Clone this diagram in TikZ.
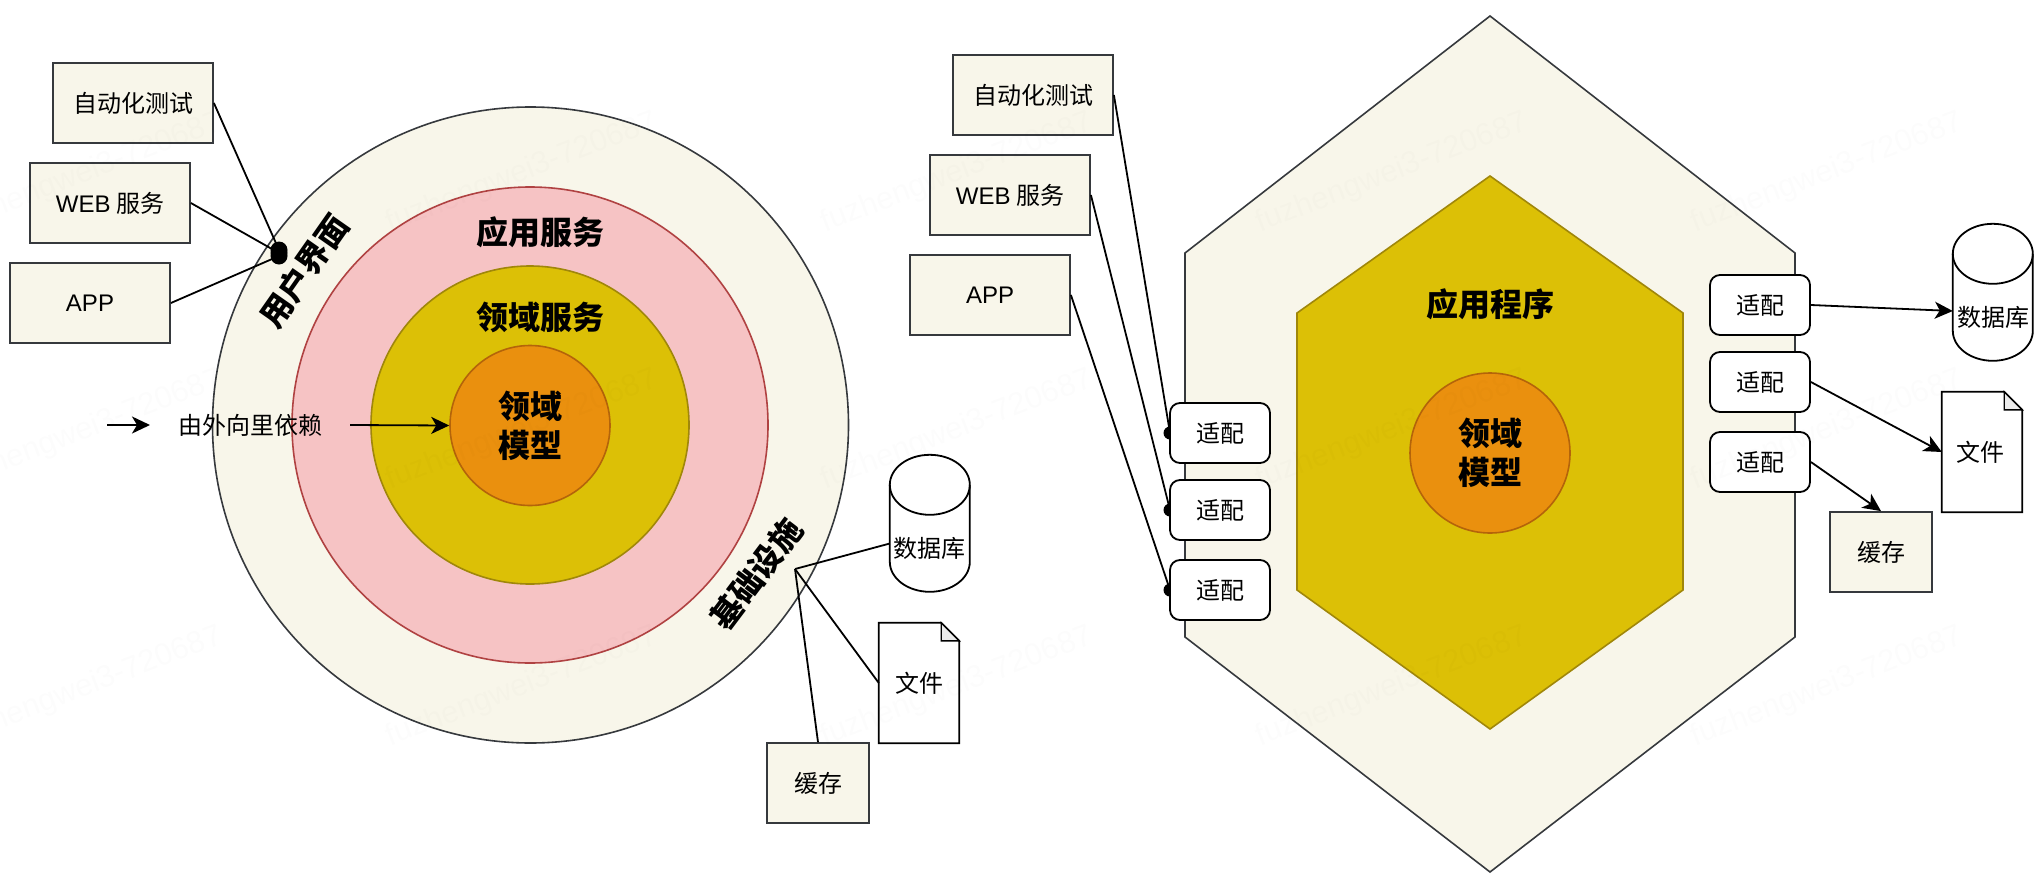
\documentclass[tikz,border=0pt]{standalone}
\usepackage{fontspec}
\setmainfont{Noto Sans CJK SC}
\newfontfamily\latinf{Liberation Sans}
\usetikzlibrary{arrows.meta}
\definecolor{cream}{RGB}{248,246,234}
\definecolor{dark}{RGB}{54,57,61}
\definecolor{pinkf}{RGB}{246,195,196}
\definecolor{pinkd}{RGB}{176,66,66}
\definecolor{olivef}{RGB}{220,192,6}
\definecolor{olived}{RGB}{160,135,10}
\definecolor{orangef}{RGB}{234,144,14}
\definecolor{oranged}{RGB}{180,100,10}
\definecolor{foldf}{RGB}{235,235,235}
\tikzset{
  lbl/.style={font=\fontsize{24}{28}\selectfont,text=black,inner sep=0pt},
  blbl/.style={font=\fontsize{32}{39}\bfseries\selectfont,text=black,inner sep=0pt,align=center},
  tbox/.style={draw=dark,line width=1.8pt,fill=cream,minimum width=160pt,minimum height=80pt,inner sep=0pt,lbl},
  cbox/.style={draw=dark,line width=1.8pt,fill=cream,minimum width=102pt,minimum height=80pt,inner sep=0pt,lbl},
  adapter/.style={draw=black,line width=1.8pt,fill=white,rounded corners=10pt,minimum width=100pt,minimum height=60pt,inner sep=0pt,lbl},
  ring/.style={circle,inner sep=0pt,line width=1.6pt},
  link/.style={draw=black,line width=1.8pt},
  arrowlink/.style={link,-{Stealth[length=18pt,width=17pt,inset=5pt]}},
  dot/.style={circle,fill=black,inner sep=0pt,minimum size=13pt},
  bigdot/.style={dot,minimum size=17pt},
  outline/.style={draw=black,line width=1.8pt,fill=white},
  wm/.style={font=\latinf\fontsize{31}{36}\selectfont,text=black,opacity=0.012,rotate=21,inner sep=0pt},
  phantombox/.style={inner sep=0pt,minimum width=80pt,minimum height=#1}
}
\newcommand{\cylshape}[3]{% name, center x, center y
  \node[phantombox=137pt] (#1) at (#2,#3) {};
  \path[outline] (#1.north west) ++(0,30) arc[start angle=180,end angle=360,x radius=40,y radius=30]
    -- ++(0,77) arc[start angle=0,end angle=180,x radius=40,y radius=30] -- cycle;
  \draw[black,line width=1.8pt] (#1.north west) ++(0,30) arc[start angle=180,end angle=0,x radius=40,y radius=30];
}
\newcommand{\docshape}[3]{% name, center x, center y
  \node[phantombox=120pt] (#1) at (#2,#3) {};
  \path[outline] (#1.north west) -- ([xshift=-18]#1.north east) -- ([yshift=-18]#1.north east) -- (#1.south east) -- (#1.south west) -- cycle;
  \path[draw=black,line width=1.4pt,fill=foldf] ([xshift=-18]#1.north east) -- ([yshift=-18]#1.north east) -- ([xshift=-18,yshift=-18]#1.north east) -- cycle;
}
\begin{document}
\begin{tikzpicture}[x=1pt,y=-1pt]
\useasboundingbox (0,0) rectangle (2044,886);

% --- left: onion
\node[ring,draw=dark,fill=cream,minimum size=636pt] (outer) at (530.5,425) {};
\node[ring,draw=pinkd,fill=pinkf,minimum size=476pt] (pink) at (530,425) {};
\node[ring,draw=olived,fill=olivef,minimum size=318pt] (olive) at (530,425) {};
\node[ring,draw=oranged,fill=orangef,minimum size=160pt,blbl] (core) at (530,425.5) {\raisebox{-1pt}{领域}\\\raisebox{-1pt}{模型}};
\node[blbl] (appsvc) at (540,232) {应用服务};
\node[blbl] (domsvc) at (540,317) {领域服务};
\node[blbl,rotate=55] (ui) at (304,271) {用户界面};
\node[blbl,rotate=53] (infra) at (756,574) {基础设施};

\node[tbox] (lt) at (133,103) {自动化测试};
\node[tbox] (lw) at (110,203) {{\latinf WEB} 服务};
\node[tbox] (la) at (90,303) {\latinf APP};
\node[bigdot] (dd1) at (279,250) {};
\node[bigdot] (dd2) at (279,253) {};
\node[bigdot] (dd3) at (279,256) {};
\draw[link] (lt.east) -- (dd1.center);
\draw[link] (lw.east) -- (dd2.center);
\draw[link] (la.east) -- (dd3.center);

\coordinate (a0) at (107,425);
\coordinate (a1) at (150,425);
\draw[arrowlink] (a0) -- (a1);
\node[lbl] (dep) at (250,425) {由外向里依赖};
\coordinate (a2) at (350,425);
\draw[arrowlink] (a2) -- (core.west);

\coordinate (hub) at (795,569);
\cylshape{ldb}{930}{523.5}
\node[lbl] (ldbt) at (929,548) {数据库};
\docshape{ldoc}{919}{683}
\node[lbl] (ldoct) at (919,683) {文件};
\node[cbox] (lc) at (818,783) {缓存};
\draw[link] (hub) -- ([yshift=-20]ldb.west);
\draw[link] (hub) -- (ldoc.west);
\draw[link] (hub) -- (lc.north);

% --- right: hexagon
\path[draw=dark,line width=1.6pt,fill=cream] (1490,16) -- (1795,253) -- (1795,637) -- (1490,872) -- (1185,637) -- (1185,253) -- cycle;
\path[draw=olived,line width=1.6pt,fill=olivef] (1490,176) -- (1683,313) -- (1683,590) -- (1490,729) -- (1297,590) -- (1297,313) -- cycle;
\node[ring,draw=oranged,fill=orangef,minimum size=160pt,blbl] (core2) at (1490,453) {领域\\模型};
\node[blbl] (appl) at (1490,304) {应用程序};

\node[tbox] (rt) at (1033,95) {自动化测试};
\node[tbox] (rw) at (1010,195) {{\latinf WEB} 服务};
\node[tbox] (ra) at (990,295) {\latinf APP};

\node[dot] (p1) at (1170,433) {};
\node[dot] (p2) at (1170,510) {};
\node[dot] (p3) at (1170,590) {};
\draw[link] (rt.east) -- (p1.center);
\draw[link] (rw.east) -- (p2.center);
\draw[link] (ra.east) -- (p3.center);
\node[adapter] (al1) at (1220,433) {适配};
\node[adapter] (al2) at (1220,510) {适配};
\node[adapter] (al3) at (1220,590) {适配};

\node[adapter] (ar1) at (1760,305) {适配};
\node[adapter] (ar2) at (1760,382) {适配};
\node[adapter] (ar3) at (1760,462) {适配};
\cylshape{rdb}{1993}{292.5}
\node[lbl] (rdbt) at (1993,317) {数据库};
\docshape{rdoc}{1982}{452}
\node[lbl] (rdoct) at (1980,452) {文件};
\node[cbox] (rc) at (1881,552) {缓存};
\draw[arrowlink] (ar1.east) -- ([yshift=-18.5]rdb.west);
\draw[arrowlink] (ar2.east) -- (rdoc.west);
\draw[arrowlink] (ar3.east) -- (rc.north);

% --- faint watermark
\foreach \wx in {87,522,957,1392,1827}{
  \foreach \wy in {173,430,687}{
    \node[wm] at (\wx,\wy) {fuzhengwei3-720687};
  }
}
\end{tikzpicture}
\end{document}
